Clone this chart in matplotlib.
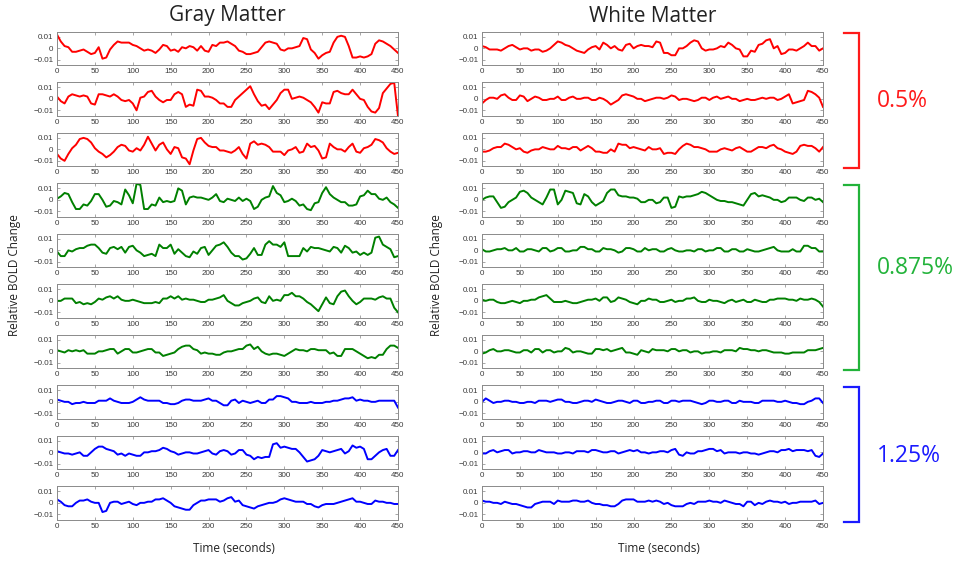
import matplotlib
matplotlib.use("Agg")
import matplotlib.pyplot as plt
from matplotlib.lines import Line2D

# Sample times (seconds)
time_s = list(range(0, 451, 5))

# Gray matter time courses (relative BOLD change)
gray_05_a = [0.012, 0.006, 0.002, 0.001, -0.003, -0.003, -0.002, -0.001, -0.003, -0.005,
             -0.004, 0.001, -0.009, -0.008, -0.001, 0.003, 0.006, 0.005, 0.005, 0.005,
             0.003, 0.002, 0.000, -0.002, -0.001, -0.002, -0.004, -0.001, 0.003, 0.002,
             -0.002, -0.001, -0.003, 0.001, 0.000, 0.002, 0.001, -0.002, 0.002, -0.002,
             -0.003, 0.003, 0.002, 0.005, 0.005, 0.006, 0.004, 0.002, -0.002, -0.003,
             -0.005, -0.005, -0.004, -0.003, 0.001, 0.005, 0.006, 0.005, 0.004, -0.001,
             -0.002, 0.000, 0.000, 0.001, 0.002, 0.009, 0.008, -0.001, -0.004, -0.009,
             -0.006, -0.004, -0.003, 0.005, 0.010, 0.011, 0.010, 0.002, -0.008, -0.008,
             -0.007, -0.008, -0.007, -0.005, 0.004, 0.007, 0.006, 0.004, 0.002, -0.001,
             -0.004]
gray_05_b = [0.002, -0.002, -0.004, 0.002, 0.004, 0.003, 0.002, 0.003, 0.002, -0.004,
             -0.005, 0.004, 0.004, 0.003, 0.002, 0.004, 0.002, -0.001, -0.002, -0.001,
             -0.004, -0.010, 0.001, 0.002, 0.006, 0.007, 0.002, -0.001, -0.003, -0.001,
             -0.001, 0.004, 0.006, 0.004, -0.007, -0.005, -0.006, 0.008, 0.007, 0.002,
             0.002, 0.001, -0.001, -0.004, -0.004, -0.007, -0.007, -0.001, 0.002, 0.005,
             0.008, 0.011, 0.004, -0.002, -0.006, -0.005, -0.009, -0.005, -0.001, 0.005,
             0.008, 0.008, 0.000, 0.001, 0.002, 0.001, -0.001, -0.003, -0.007, -0.012,
             -0.003, -0.004, -0.004, 0.006, 0.007, 0.005, 0.004, 0.004, 0.008, 0.004,
             0.000, -0.001, -0.007, -0.011, -0.012, -0.008, 0.005, 0.009, 0.013, 0.014,
             -0.015]
gray_05_c = [-0.004, -0.008, -0.010, -0.004, 0.001, 0.004, 0.009, 0.010, 0.009, 0.006,
             0.001, -0.002, -0.004, -0.007, -0.005, -0.002, 0.002, 0.004, 0.003, -0.001,
             -0.002, 0.001, -0.001, 0.004, 0.011, 0.005, -0.001, 0.004, 0.006, 0.000,
             -0.004, 0.002, 0.001, -0.007, -0.008, -0.013, -0.001, 0.009, 0.010, 0.006,
             0.003, 0.002, 0.002, -0.001, -0.001, -0.002, -0.003, -0.001, 0.002, -0.004,
             -0.008, 0.005, 0.007, 0.004, 0.005, 0.004, 0.002, -0.002, -0.002, -0.002,
             -0.005, -0.001, 0.000, 0.002, -0.003, -0.002, 0.005, 0.002, 0.003, -0.001,
             -0.008, -0.007, 0.005, 0.002, 0.000, 0.000, -0.002, 0.002, 0.005, -0.002,
             -0.003, 0.001, 0.002, 0.004, 0.009, 0.008, 0.006, 0.001, -0.002, -0.004,
             -0.003]
gray_0875_a = [0.001, 0.003, 0.006, 0.005, -0.002, -0.008, -0.008, -0.004, -0.005, -0.001,
               0.005, 0.005, 0.000, -0.006, -0.005, -0.001, -0.002, -0.004, 0.009, 0.004,
               -0.003, 0.014, 0.013, -0.008, -0.008, -0.004, -0.005, 0.002, -0.002, -0.001,
               -0.002, -0.001, 0.010, 0.008, -0.004, 0.002, 0.003, 0.002, 0.002, 0.001,
               0.000, 0.002, 0.005, -0.001, -0.002, 0.001, 0.000, -0.001, 0.002, -0.001,
               0.001, -0.001, -0.008, -0.006, 0.000, 0.002, 0.003, 0.012, 0.006, 0.004,
               -0.002, -0.001, 0.001, -0.001, -0.005, -0.004, -0.008, -0.009, -0.003, -0.002,
               0.006, 0.011, 0.005, 0.002, 0.000, -0.002, -0.002, -0.005, -0.005, -0.004,
               0.003, 0.004, 0.008, 0.005, 0.005, 0.001, 0.000, 0.002, -0.002, -0.004,
               -0.007]
gray_0875_b = [-0.001, -0.005, -0.005, 0.000, -0.001, 0.001, 0.002, 0.002, 0.004, 0.005,
               0.005, 0.002, -0.002, -0.003, 0.002, 0.003, 0.001, 0.003, -0.002, 0.003,
               0.004, 0.000, -0.002, -0.005, -0.004, -0.003, -0.005, 0.005, 0.002, 0.002,
               0.005, -0.003, 0.001, -0.002, -0.005, -0.006, -0.001, -0.003, 0.002, 0.003,
               -0.004, 0.000, 0.004, 0.005, 0.007, 0.003, -0.002, -0.005, -0.005, -0.008,
               -0.007, -0.003, 0.002, -0.004, -0.004, 0.005, 0.008, 0.005, 0.005, 0.003,
               0.007, -0.005, -0.005, -0.005, -0.005, 0.002, -0.001, 0.003, 0.002, 0.002,
               0.001, 0.000, -0.001, 0.003, 0.002, -0.002, 0.004, 0.002, -0.002, -0.001,
               -0.004, -0.002, -0.004, -0.002, 0.011, 0.012, 0.005, 0.003, 0.001, -0.006,
               -0.005]
gray_0875_c = [0.000, 0.000, 0.002, 0.002, 0.002, -0.002, -0.001, -0.003, -0.002, -0.003,
               -0.001, 0.002, 0.001, 0.003, 0.004, 0.002, 0.004, 0.001, 0.000, 0.000,
               0.001, 0.000, -0.001, -0.002, -0.002, -0.002, -0.001, -0.002, 0.002, 0.002,
               0.004, 0.002, 0.004, 0.001, 0.002, 0.001, 0.001, 0.000, -0.001, -0.001,
               0.001, 0.001, 0.002, 0.003, 0.005, 0.000, -0.002, -0.004, -0.004, -0.002,
               -0.001, 0.000, 0.002, 0.003, -0.001, -0.002, 0.004, 0.000, 0.001, 0.000,
               0.005, 0.005, 0.007, 0.004, 0.004, 0.002, -0.001, -0.003, -0.006, -0.009,
               -0.003, 0.003, -0.002, -0.003, 0.004, 0.008, 0.009, 0.004, 0.000, -0.003,
               -0.001, 0.002, 0.002, 0.002, 0.001, 0.003, 0.004, 0.002, 0.002, -0.006,
               -0.010]
gray_0875_d = [0.001, 0.000, -0.001, 0.001, 0.000, 0.001, 0.000, 0.001, -0.002, -0.002,
               -0.002, 0.000, 0.000, 0.001, 0.002, 0.002, -0.002, 0.000, 0.002, 0.002,
               -0.001, -0.001, 0.000, 0.001, 0.002, 0.002, -0.001, -0.001, -0.004, -0.003,
               -0.002, -0.001, 0.002, 0.004, 0.005, 0.005, 0.002, 0.001, -0.002, -0.001,
               -0.002, -0.002, -0.003, -0.003, -0.001, 0.000, 0.000, 0.001, 0.002, 0.002,
               0.005, 0.006, 0.002, 0.004, 0.000, -0.002, -0.003, -0.002, -0.002, -0.003,
               -0.004, -0.002, 0.000, 0.002, 0.001, 0.001, 0.000, 0.002, 0.002, 0.001,
               0.001, 0.001, -0.002, -0.001, -0.004, -0.004, 0.002, 0.002, 0.002, 0.000,
               -0.002, -0.004, -0.006, -0.005, -0.006, -0.003, -0.003, 0.002, 0.005, 0.005,
               0.003]
gray_125_a = [0.002, 0.001, 0.000, 0.000, -0.002, -0.001, -0.001, 0.000, -0.001, -0.001,
              -0.001, 0.001, 0.001, 0.001, 0.003, 0.001, 0.000, -0.001, -0.001, -0.001,
              0.000, 0.002, 0.004, 0.002, 0.001, 0.001, 0.001, 0.001, -0.001, -0.001,
              -0.002, -0.002, -0.001, 0.001, 0.002, 0.002, 0.001, 0.001, 0.001, 0.002,
              0.003, 0.001, 0.001, -0.001, -0.003, -0.003, 0.001, 0.002, -0.001, 0.001,
              0.000, -0.001, 0.000, 0.001, -0.001, -0.001, 0.002, 0.002, 0.005, 0.005,
              0.004, 0.003, 0.000, 0.000, -0.001, -0.001, -0.001, 0.000, -0.001, -0.001,
              -0.001, 0.000, 0.000, 0.001, 0.001, 0.002, 0.003, 0.003, 0.004, 0.001,
              0.002, 0.001, 0.001, 0.000, 0.000, 0.001, 0.001, 0.001, 0.001, 0.001,
              -0.005]
gray_125_b = [0.001, 0.000, -0.001, -0.001, -0.002, -0.001, 0.000, -0.003, -0.003, 0.000,
              0.003, 0.005, 0.005, 0.003, 0.002, 0.001, -0.002, -0.001, -0.003, -0.001,
              -0.002, -0.003, -0.003, 0.000, 0.000, 0.001, 0.001, 0.002, 0.004, 0.003,
              0.001, 0.000, -0.002, -0.001, 0.000, 0.000, -0.001, -0.001, 0.000, 0.001,
              0.002, -0.001, -0.002, 0.001, 0.002, 0.001, -0.002, -0.001, 0.002, 0.002,
              -0.002, -0.003, -0.006, -0.004, -0.005, -0.004, -0.004, 0.007, 0.008, 0.004,
              0.005, 0.004, 0.003, 0.003, 0.000, -0.004, -0.008, -0.007, -0.006, -0.003,
              0.002, 0.001, 0.000, 0.001, 0.002, 0.003, -0.001, 0.001, 0.006, 0.004,
              0.005, 0.003, -0.006, -0.006, -0.003, 0.000, 0.002, 0.003, -0.003, -0.003,
              0.002]
gray_125_c = [0.003, 0.001, -0.002, -0.003, -0.003, 0.000, 0.002, 0.002, 0.003, 0.001,
              0.000, 0.000, -0.008, -0.007, 0.000, 0.001, 0.001, -0.001, 0.000, 0.001,
              -0.001, -0.002, 0.000, 0.000, 0.001, 0.001, 0.003, 0.003, 0.004, 0.002,
              0.000, -0.003, -0.004, -0.005, -0.006, -0.006, -0.002, 0.000, 0.002, 0.002,
              0.003, 0.003, 0.003, 0.001, 0.002, 0.004, 0.005, 0.001, 0.002, -0.002,
              -0.003, -0.004, -0.005, -0.003, -0.002, -0.001, 0.000, 0.000, 0.001, 0.003,
              0.004, 0.003, 0.002, 0.001, 0.001, 0.001, -0.001, -0.001, -0.003, -0.004,
              -0.002, -0.001, -0.001, -0.001, 0.000, 0.001, 0.002, 0.003, 0.004, 0.001,
              0.001, 0.000, -0.001, -0.001, 0.002, 0.001, 0.001, 0.000, 0.000, -0.001,
              -0.001]

# White matter time courses (relative BOLD change)
white_05_a = [0.002, 0.001, -0.001, -0.001, -0.001, -0.002, 0.000, 0.002, 0.003, 0.001,
              -0.001, 0.000, 0.000, -0.002, -0.001, -0.001, -0.003, -0.002, 0.000, 0.003,
              0.006, 0.005, 0.003, 0.002, 0.000, -0.002, -0.003, -0.004, -0.001, 0.001,
              0.002, -0.001, 0.005, 0.003, 0.000, 0.002, -0.001, -0.002, 0.003, 0.004,
              0.000, 0.002, 0.003, 0.002, 0.002, 0.001, 0.006, 0.005, -0.004, -0.004,
              -0.006, -0.006, 0.000, 0.000, 0.002, 0.005, 0.007, 0.006, 0.000, -0.002,
              -0.001, -0.001, 0.000, 0.002, 0.001, 0.005, 0.003, 0.000, -0.001, -0.007,
              -0.007, -0.002, -0.003, 0.003, 0.004, 0.007, 0.008, 0.000, 0.002, -0.005,
              -0.004, -0.001, -0.001, -0.002, 0.000, 0.002, 0.005, 0.002, 0.002, -0.002,
              0.000]
white_05_b = [-0.004, -0.001, 0.001, 0.001, 0.000, 0.003, 0.004, 0.001, -0.001, -0.001,
              0.003, 0.002, -0.002, 0.000, 0.002, 0.001, -0.001, -0.001, 0.000, 0.000,
              0.002, -0.001, -0.001, 0.001, 0.002, 0.000, 0.000, 0.001, 0.001, -0.001,
              -0.001, 0.001, 0.000, -0.002, -0.005, -0.003, -0.001, 0.003, 0.004, 0.003,
              0.002, 0.000, 0.000, -0.002, -0.001, 0.000, 0.001, 0.001, 0.000, 0.001,
              0.003, 0.002, -0.001, 0.000, 0.000, -0.001, -0.002, -0.001, 0.001, 0.001,
              -0.001, 0.001, 0.002, 0.000, 0.001, 0.002, 0.000, 0.000, -0.002, -0.001,
              0.000, -0.001, -0.001, 0.000, 0.001, 0.000, 0.001, 0.001, -0.001, 0.000,
              0.002, 0.004, -0.004, -0.003, -0.002, -0.001, 0.007, 0.006, 0.004, 0.001,
              -0.007]
white_05_c = [-0.002, -0.002, -0.001, 0.001, 0.002, 0.002, 0.005, 0.004, 0.002, 0.000,
              0.001, -0.002, -0.003, -0.001, 0.000, 0.000, 0.002, 0.001, 0.000, 0.000,
              0.003, 0.001, 0.001, 0.000, 0.002, 0.002, -0.001, 0.001, 0.003, 0.001,
              -0.002, -0.002, -0.003, -0.003, 0.000, -0.002, 0.005, 0.004, 0.004, 0.001,
              0.002, 0.001, 0.000, -0.001, 0.002, 0.000, 0.000, 0.001, -0.004, -0.003,
              -0.003, -0.004, 0.000, 0.003, 0.005, 0.004, 0.002, 0.002, 0.001, 0.000,
              -0.002, -0.002, -0.002, 0.000, 0.001, 0.000, -0.001, 0.001, 0.002, 0.000,
              -0.002, -0.002, 0.000, 0.002, 0.002, 0.001, 0.003, 0.004, 0.001, 0.000,
              -0.002, -0.003, -0.004, -0.002, 0.003, 0.004, 0.003, 0.003, 0.001, -0.002,
              0.002]
white_0875_a = [0.000, 0.002, 0.003, 0.003, -0.002, -0.007, -0.006, -0.002, 0.000, 0.002,
                0.007, 0.008, 0.006, 0.002, 0.000, -0.002, -0.004, 0.002, 0.009, 0.009,
                -0.004, 0.000, 0.008, 0.007, 0.006, -0.003, -0.004, 0.005, 0.003, -0.002,
                -0.005, -0.003, -0.001, 0.006, 0.009, 0.009, 0.004, 0.003, 0.003, 0.002,
                0.002, 0.001, -0.002, -0.002, 0.000, 0.000, -0.003, -0.002, 0.002, 0.002,
                -0.007, -0.006, 0.003, 0.002, 0.003, 0.003, 0.004, 0.005, 0.007, 0.006,
                0.004, 0.002, 0.000, -0.001, -0.001, -0.002, -0.002, -0.003, -0.004, -0.005,
                0.000, 0.005, 0.006, 0.003, 0.004, 0.003, 0.002, 0.000, 0.000, -0.002,
                -0.001, 0.002, 0.002, 0.002, 0.000, -0.001, 0.002, 0.002, 0.000, 0.001,
                -0.002]
white_0875_b = [0.001, -0.001, -0.001, 0.000, 0.001, 0.001, 0.002, 0.000, 0.000, 0.002,
                -0.001, -0.001, 0.001, 0.001, 0.000, -0.001, 0.002, 0.002, -0.001, 0.000,
                0.002, 0.002, -0.001, -0.001, 0.000, 0.000, 0.003, 0.003, 0.001, 0.001,
                -0.001, -0.001, 0.002, 0.001, 0.001, 0.000, -0.002, -0.001, 0.002, 0.002,
                0.001, -0.001, -0.001, 0.002, 0.000, 0.001, 0.001, -0.001, -0.001, 0.001,
                0.002, 0.000, -0.001, -0.001, 0.000, 0.000, -0.001, 0.001, 0.001, -0.001,
                0.000, 0.000, 0.002, 0.002, -0.001, -0.001, 0.001, 0.001, -0.001, -0.001,
                0.001, 0.000, -0.001, -0.001, 0.000, 0.001, 0.002, 0.003, 0.000, -0.001,
                -0.001, -0.001, 0.001, -0.001, -0.001, 0.004, 0.004, 0.002, 0.002, -0.001,
                -0.001]
white_0875_c = [0.001, 0.000, 0.001, 0.001, -0.001, -0.002, -0.002, -0.001, 0.000, -0.001,
                -0.002, 0.000, 0.000, 0.001, 0.001, 0.003, 0.004, 0.005, 0.002, -0.001,
                -0.001, -0.001, 0.000, -0.001, -0.002, -0.002, -0.001, 0.000, 0.001, 0.001,
                0.002, 0.000, 0.003, 0.003, -0.001, 0.000, 0.003, 0.002, 0.001, -0.001,
                -0.002, -0.003, 0.000, 0.000, 0.002, 0.001, 0.001, -0.001, -0.001, 0.000,
                0.001, -0.001, 0.000, 0.000, 0.002, 0.002, 0.003, 0.000, -0.001, -0.001,
                0.001, 0.000, 0.000, -0.001, -0.002, 0.000, 0.001, -0.001, 0.000, 0.001,
                -0.001, -0.001, 0.001, 0.000, -0.001, -0.001, 0.001, 0.001, 0.002, 0.002,
                0.002, 0.001, 0.001, 0.000, 0.002, 0.001, 0.001, 0.002, 0.001, -0.001,
                -0.005]
white_0875_d = [-0.002, -0.001, 0.001, 0.002, 0.000, 0.000, 0.001, 0.001, 0.000, -0.001,
                -0.001, 0.001, 0.001, -0.001, 0.002, 0.002, -0.001, 0.001, 0.001, -0.001,
                0.000, 0.000, 0.003, 0.002, -0.001, 0.000, 0.000, -0.001, -0.002, -0.002,
                0.002, 0.002, 0.001, 0.002, 0.000, 0.001, 0.002, 0.003, -0.001, -0.001,
                -0.002, -0.003, 0.001, 0.000, -0.001, 0.002, 0.001, 0.001, 0.001, 0.000,
                0.002, 0.002, 0.000, 0.001, 0.001, -0.001, 0.000, 0.000, -0.002, -0.001,
                -0.001, 0.000, 0.000, -0.001, 0.001, 0.001, 0.001, 0.000, 0.003, 0.002,
                0.002, 0.001, 0.001, 0.000, 0.001, 0.001, 0.000, -0.001, -0.001, -0.001,
                -0.002, -0.002, -0.001, -0.001, -0.001, -0.001, 0.001, 0.001, 0.001, 0.002,
                0.003]
white_125_a = [0.000, 0.003, 0.001, -0.001, 0.000, 0.000, 0.001, 0.001, 0.000, 0.000,
               -0.001, -0.001, 0.000, 0.000, -0.001, 0.001, 0.001, 0.001, 0.000, 0.001,
               0.002, 0.002, 0.000, 0.000, -0.001, -0.001, 0.000, 0.001, 0.001, 0.000,
               0.002, 0.001, 0.000, -0.001, -0.001, 0.000, 0.001, 0.001, 0.000, -0.001,
               0.001, 0.001, -0.001, -0.001, 0.000, 0.000, 0.001, 0.001, -0.001, -0.001,
               0.001, 0.001, 0.000, 0.001, 0.001, 0.001, 0.000, -0.001, -0.002, -0.001,
               0.001, 0.001, 0.000, 0.000, 0.001, 0.001, -0.001, -0.001, 0.001, 0.000,
               0.000, 0.000, -0.001, -0.001, 0.001, 0.001, 0.001, 0.001, 0.000, 0.000,
               0.001, 0.000, -0.001, -0.001, -0.002, -0.002, 0.000, 0.001, 0.003, 0.003,
               -0.001]
white_125_b = [-0.001, -0.001, 0.001, 0.002, 0.000, 0.001, 0.002, 0.002, -0.001, 0.000,
               0.000, 0.001, 0.001, 0.000, 0.000, 0.002, 0.001, 0.000, 0.000, 0.000,
               -0.001, -0.001, 0.000, 0.000, -0.001, 0.001, 0.001, 0.001, 0.000, 0.002,
               0.002, 0.001, 0.000, 0.000, 0.001, 0.001, -0.001, 0.000, 0.001, 0.002,
               0.001, 0.002, 0.000, 0.000, -0.001, 0.000, 0.000, 0.001, 0.001, 0.000,
               0.002, 0.003, -0.002, -0.003, 0.000, -0.001, -0.001, 0.001, 0.001, 0.002,
               0.003, 0.003, 0.001, 0.002, -0.001, 0.000, 0.000, 0.000, -0.001, 0.000,
               0.000, -0.001, -0.001, -0.002, -0.001, 0.000, 0.001, 0.001, 0.000, 0.002,
               0.002, 0.003, 0.001, 0.002, 0.002, 0.002, 0.001, 0.002, -0.003, -0.004,
               -0.001]
white_125_c = [0.002, 0.001, 0.001, 0.000, 0.000, -0.001, 0.001, 0.000, -0.001, -0.001,
               -0.002, -0.003, -0.004, -0.004, -0.001, 0.000, 0.001, 0.001, 0.001, -0.001,
               0.002, 0.001, 0.001, 0.001, 0.002, 0.002, 0.001, 0.001, 0.002, 0.000,
               -0.001, -0.001, -0.002, -0.002, -0.003, -0.003, -0.001, 0.002, 0.003, 0.003,
               0.003, 0.001, 0.001, 0.001, 0.002, 0.001, 0.002, 0.001, -0.001, 0.000,
               -0.002, -0.003, -0.003, -0.003, -0.001, 0.000, -0.001, 0.001, 0.001, 0.001,
               0.002, 0.001, 0.001, 0.000, 0.002, 0.001, 0.000, -0.001, -0.001, -0.003,
               0.001, 0.001, -0.002, 0.000, -0.001, 0.001, 0.002, 0.001, 0.001, 0.000,
               0.001, -0.001, 0.000, 0.000, 0.001, 0.001, 0.001, 0.001, 0.002, -0.001,
               0.000]

gray_series = [gray_05_a, gray_05_b, gray_05_c,
               gray_0875_a, gray_0875_b, gray_0875_c, gray_0875_d,
               gray_125_a, gray_125_b, gray_125_c]
white_series = [white_05_a, white_05_b, white_05_c,
                white_0875_a, white_0875_b, white_0875_c, white_0875_d,
                white_125_a, white_125_b, white_125_c]
for s in gray_series + white_series:
    assert len(s) == len(time_s)

# Noise level groups: label, number of rows, line colour, label colour
group_labels = ["0.5%", "0.875%", "1.25%"]
group_sizes = [3, 4, 3]
line_colors = ["#ff0000", "#008000", "#0000ff"]
label_colors = ["#ff1a1a", "#22b33a", "#1a1aff"]

x_ticks = [0, 50, 100, 150, 200, 250, 300, 350, 400, 450]
y_ticks = [-0.01, 0, 0.01]
y_tick_labels = ["\u22120.01", "0", "0.01"]

W, H = 962, 565
fig = plt.figure(figsize=(W / 100, H / 100), dpi=100)
plt.rcParams["font.family"] = ["Open Sans", "DejaVu Sans"]


def px_rect(left, top, width, height):
    return [left / W, 1 - (top + height) / H, width / W, height / H]


row_top0, row_step, row_h = 31.7, 50.5, 33.3
col_left = [57, 482]
col_w = 341

row_colors = []
for c, n in zip(line_colors, group_sizes):
    row_colors += [c] * n

for col, series_list in enumerate([gray_series, white_series]):
    for i, values in enumerate(series_list):
        ax = fig.add_axes(px_rect(col_left[col], row_top0 + row_step * i, col_w, row_h))
        ax.plot(time_s, values, color=row_colors[i], lw=1.4, solid_joinstyle="round")
        ax.set_xlim(0, 450)
        ax.set_ylim(-0.0145, 0.0145)
        ax.set_xticks(x_ticks)
        ax.set_yticks(y_ticks)
        ax.set_yticklabels(y_tick_labels)
        ax.tick_params(direction="in", length=2.5, width=0.6, top=True, right=True,
                       labelsize=5.8, colors="#999999", labelcolor="#3a3a3a", pad=2.5)
        for lbl in ax.get_xticklabels() + ax.get_yticklabels():
            lbl.set_fontfamily(["Liberation Sans", "DejaVu Sans"])
        for sp in ax.spines.values():
            sp.set_color("#8a8a8a")
            sp.set_linewidth(0.7)

# Column titles, axis labels
for col, title in enumerate(["Gray Matter", "White Matter"]):
    cx = (col_left[col] + col_w / 2) / W
    fig.text(cx, 1 - 16 / H, title, ha="center", va="center", fontsize=15, color="#222222")
    fig.text((col_left[col] + col_w / 2 + 6) / W, 1 - 549 / H, "Time (seconds)",
             ha="center", va="center", fontsize=8.5, color="#222222")
ylabel_x = [15, 437]
for x in ylabel_x:
    fig.text(x / W, 1 - 275 / H, "Relative BOLD Change", rotation=90,
             ha="center", va="center", fontsize=8.5, color="#222222")

# Brackets and noise-level labels
start = 0
label_y = [101, 268, 456]
for k, n in enumerate(group_sizes):
    top = row_top0 + row_step * start + 1.5
    bottom = row_top0 + row_step * (start + n - 1) + row_h + 2
    xs = [844 / W, 859 / W, 859 / W, 844 / W]
    ys = [1 - top / H, 1 - top / H, 1 - bottom / H, 1 - bottom / H]
    fig.add_artist(Line2D(xs, ys, color=label_colors[k], lw=1.6,
                          solid_joinstyle="miter", transform=fig.transFigure))
    fig.text(877 / W, 1 - label_y[k] / H, group_labels[k], ha="left", va="center",
             fontsize=16.5, color=label_colors[k])
    start += n

fig.savefig("out.png", dpi=100)
